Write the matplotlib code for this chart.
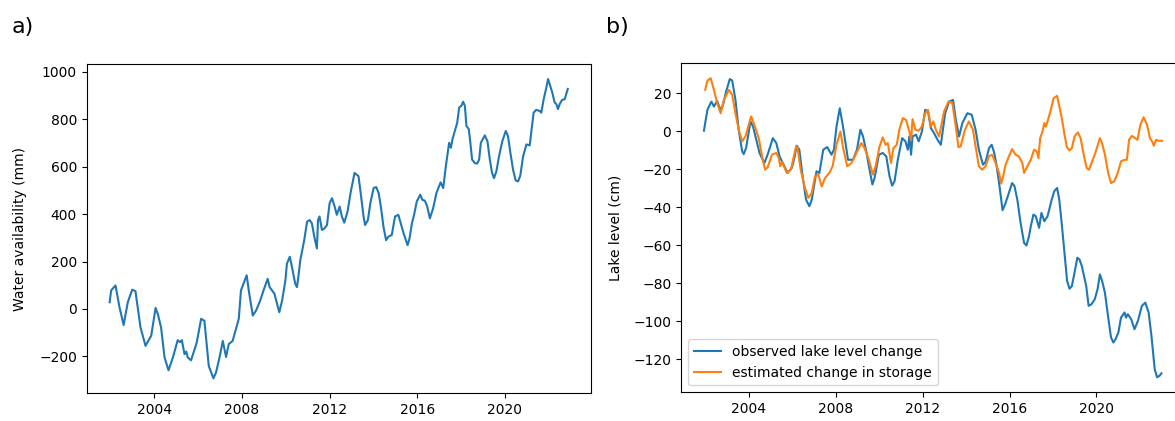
import matplotlib
matplotlib.use("Agg")
import matplotlib.pyplot as plt

# ---- panel a) water availability (mm) ----
wa_year = [2001.95, 2002.02, 2002.22, 2002.40, 2002.59, 2002.78, 2002.98, 2003.13, 2003.36, 2003.59,
           2003.85, 2004.05, 2004.15, 2004.30, 2004.46, 2004.64, 2004.84, 2005.06, 2005.16, 2005.25,
           2005.37, 2005.45, 2005.52, 2005.67, 2005.93, 2006.13, 2006.28, 2006.48, 2006.69, 2006.81,
           2006.97, 2007.12, 2007.27, 2007.39, 2007.57, 2007.70, 2007.85, 2007.95, 2008.21, 2008.33,
           2008.49, 2008.64, 2008.83, 2008.98, 2009.17, 2009.26, 2009.48, 2009.70, 2009.83, 2009.98,
           2010.05, 2010.18, 2010.25, 2010.43, 2010.51, 2010.59, 2010.66, 2010.84, 2010.97, 2011.09,
           2011.19, 2011.30, 2011.42, 2011.47, 2011.54, 2011.65, 2011.77, 2011.88, 2012.00, 2012.11,
           2012.23, 2012.33, 2012.46, 2012.56, 2012.67, 2012.82, 2012.97, 2013.14, 2013.32, 2013.44,
           2013.55, 2013.62, 2013.75, 2013.86, 2014.01, 2014.13, 2014.24, 2014.34, 2014.46, 2014.58,
           2014.69, 2014.84, 2014.99, 2015.14, 2015.25, 2015.38, 2015.56, 2015.65, 2015.76, 2015.86,
           2015.98, 2016.14, 2016.24, 2016.35, 2016.46, 2016.58, 2016.73, 2016.88, 2017.07, 2017.19,
           2017.31, 2017.46, 2017.54, 2017.61, 2017.72, 2017.83, 2017.92, 2018.02, 2018.10, 2018.18,
           2018.25, 2018.36, 2018.43, 2018.51, 2018.63, 2018.74, 2018.83, 2018.91, 2019.09, 2019.21,
           2019.32, 2019.42, 2019.51, 2019.62, 2019.74, 2019.89, 2020.05, 2020.15, 2020.26, 2020.38,
           2020.50, 2020.61, 2020.71, 2020.84, 2020.99, 2021.14, 2021.32, 2021.44, 2021.60, 2021.67,
           2021.78, 2021.87, 2021.98, 2022.05, 2022.17, 2022.28, 2022.36, 2022.43, 2022.51, 2022.62,
           2022.74, 2022.88]
wa_mm = [28, 78, 99, 7, -68, 28, 81, 75, -78, -156,
         -113, 4, -21, -78, -205, -259, -205, -132, -140, -132,
         -191, -180, -205, -217, -142, -42, -50, -241, -293, -269,
         -205, -135, -203, -149, -135, -92, -42, 78, 142, 64,
         -28, -7, 35, 78, 127, 92, 64, -14, 35, 120,
         191, 220, 191, 106, 92, 149, 205, 290, 368, 375,
         361, 305, 255, 375, 390, 333, 340, 354, 446, 467,
         432, 397, 432, 390, 364, 411, 496, 574, 560, 474,
         390, 354, 375, 446, 510, 514, 489, 432, 347, 290,
         305, 312, 390, 397, 361, 319, 269, 297, 361, 397,
         453, 482, 460, 457, 432, 382, 425, 489, 534, 510,
         602, 701, 680, 715, 751, 786, 850, 857, 874, 857,
         772, 758, 701, 630, 616, 613, 630, 701, 732, 708,
         630, 574, 552, 581, 644, 708, 751, 729, 658, 588,
         542, 538, 562, 644, 694, 690, 828, 840, 835, 828,
         885, 921, 970, 949, 914, 871, 864, 843, 864, 882,
         885, 928]

# ---- panel b) lake level (cm) ----
obs_year = [2001.94, 2002.10, 2002.28, 2002.40, 2002.55, 2002.70, 2002.82, 2002.94, 2003.13, 2003.24,
            2003.39, 2003.54, 2003.70, 2003.77, 2003.88, 2004.08, 2004.20, 2004.35, 2004.50, 2004.72,
            2004.87, 2005.11, 2005.27, 2005.42, 2005.79, 2005.98, 2006.10, 2006.21, 2006.33, 2006.48,
            2006.64, 2006.79, 2006.90, 2007.12, 2007.25, 2007.43, 2007.61, 2007.81, 2007.92, 2008.04,
            2008.19, 2008.34, 2008.57, 2008.80, 2008.98, 2009.14, 2009.26, 2009.41, 2009.56, 2009.69,
            2009.79, 2009.99, 2010.17, 2010.33, 2010.48, 2010.60, 2010.71, 2010.86, 2011.06, 2011.21,
            2011.32, 2011.39, 2011.47, 2011.54, 2011.70, 2011.82, 2011.97, 2012.12, 2012.25, 2012.38,
            2012.53, 2012.69, 2012.84, 2013.04, 2013.22, 2013.40, 2013.53, 2013.68, 2013.83, 2014.06,
            2014.26, 2014.44, 2014.59, 2014.78, 2014.90, 2015.06, 2015.18, 2015.30, 2015.41, 2015.52,
            2015.68, 2015.81, 2015.97, 2016.12, 2016.23, 2016.36, 2016.51, 2016.67, 2016.78, 2016.90,
            2016.98, 2017.10, 2017.21, 2017.36, 2017.47, 2017.60, 2017.75, 2017.94, 2018.06, 2018.19,
            2018.29, 2018.40, 2018.53, 2018.65, 2018.76, 2018.87, 2018.99, 2019.12, 2019.22, 2019.33,
            2019.53, 2019.64, 2019.77, 2019.92, 2020.05, 2020.16, 2020.26, 2020.39, 2020.51, 2020.67,
            2020.78, 2020.88, 2021.01, 2021.13, 2021.29, 2021.36, 2021.44, 2021.60, 2021.75, 2021.91,
            2022.09, 2022.25, 2022.40, 2022.53, 2022.68, 2022.79, 2022.90, 2022.99]
obs_cm = [0.3, 11.3, 15.6, 13.0, 16.0, 11.0, 14.0, 20.0, 27.5, 26.7,
          16.5, 0.8, -10.6, -12.0, -8.8, 5.2, 2.5, -4.5, -11.5, -16.7,
          -12.3, -3.6, -6.2, -13.2, -21.9, -19.3, -14.1, -7.6, -9.7, -23.7,
          -36.0, -39.4, -36.0, -21.0, -22.0, -9.7, -8.3, -12.3, -9.7, 2.5,
          12.1, 2.5, -15.0, -15.0, -9.7, 0.8, -2.7, -10.6, -20.2, -28.0,
          -24.6, -12.3, -11.4, -13.2, -23.7, -28.6, -26.3, -15.0, -3.6, -5.3,
          -9.7, -2.7, -12.3, -2.7, -1.8, -5.3, -0.1, 11.3, 10.4, 1.7,
          -1.0, -4.5, -7.1, 9.5, 15.6, 16.5, 6.0, -2.7, 4.3, 9.5,
          8.7, 0.8, -9.7, -17.6, -16.0, -8.8, -7.1, -11.4, -18.4, -27.2,
          -41.5, -38.0, -32.4, -27.2, -28.9, -36.0, -48.2, -58.7, -60.1, -55.1,
          -49.9, -43.8, -44.7, -50.8, -42.9, -47.3, -44.7, -36.0, -31.5, -29.8,
          -36.0, -48.2, -63.9, -78.7, -82.8, -81.4, -74.4, -66.5, -67.4, -71.0,
          -81.4, -91.8, -91.0, -88.4, -83.1, -75.3, -78.7, -84.9, -95.3, -108.4,
          -111.1, -109.3, -105.8, -98.0, -95.3, -98.0, -96.2, -98.8, -104.1, -99.7,
          -91.8, -90.1, -95.3, -107.5, -125.0, -129.4, -128.6, -127.3]

est_year = [2002.00, 2002.10, 2002.25, 2002.40, 2002.55, 2002.71, 2002.86, 2003.09, 2003.24, 2003.39,
            2003.54, 2003.70, 2003.85, 2004.11, 2004.26, 2004.46, 2004.66, 2004.76, 2004.87, 2005.07,
            2005.27, 2005.38, 2005.45, 2005.53, 2005.75, 2005.94, 2006.18, 2006.25, 2006.39, 2006.59,
            2006.74, 2006.90, 2007.05, 2007.20, 2007.36, 2007.51, 2007.71, 2007.86, 2008.04, 2008.22,
            2008.34, 2008.53, 2008.73, 2008.92, 2009.18, 2009.33, 2009.53, 2009.71, 2009.84, 2010.02,
            2010.17, 2010.30, 2010.40, 2010.55, 2010.66, 2010.81, 2010.93, 2011.09, 2011.24, 2011.39,
            2011.47, 2011.54, 2011.67, 2011.82, 2011.97, 2012.12, 2012.25, 2012.38, 2012.49, 2012.61,
            2012.76, 2012.99, 2013.19, 2013.37, 2013.53, 2013.65, 2013.75, 2013.95, 2014.13, 2014.32,
            2014.44, 2014.59, 2014.74, 2014.90, 2015.05, 2015.20, 2015.39, 2015.52, 2015.62, 2015.70,
            2015.81, 2015.97, 2016.12, 2016.28, 2016.43, 2016.59, 2016.67, 2016.82, 2016.98, 2017.13,
            2017.26, 2017.33, 2017.41, 2017.52, 2017.60, 2017.67, 2017.75, 2017.88, 2018.03, 2018.19,
            2018.29, 2018.42, 2018.53, 2018.64, 2018.76, 2018.87, 2018.99, 2019.15, 2019.27, 2019.43,
            2019.55, 2019.66, 2019.80, 2019.95, 2020.16, 2020.26, 2020.39, 2020.54, 2020.67, 2020.82,
            2020.98, 2021.13, 2021.29, 2021.40, 2021.50, 2021.63, 2021.78, 2021.89, 2022.02, 2022.17,
            2022.33, 2022.46, 2022.56, 2022.64, 2022.74, 2022.87, 2023.02]
est_cm = [21.8, 26.7, 27.9, 21.8, 14.8, 9.5, 16.5, 21.8, 19.1, 9.5,
          0.8, -5.3, -2.7, 7.8, 3.4, -3.6, -15.8, -20.2, -19.0, -12.3,
          -11.4, -14.0, -18.4, -16.0, -21.9, -20.2, -7.9, -8.8, -20.2, -29.8,
          -35.0, -32.4, -23.7, -22.8, -29.0, -24.6, -21.9, -18.4, -7.1, -0.1,
          -8.5, -18.4, -16.7, -12.3, -6.2, -8.8, -15.0, -22.8, -18.4, -8.0,
          -3.2, -7.1, -6.2, -16.7, -8.8, -7.1, 0.8, 6.9, 6.0, -0.1,
          -4.5, 6.4, 0.8, 0.3, 2.5, 9.5, 11.3, 2.5, 5.2, 0.8,
          -2.7, 10.4, 15.6, 14.8, 2.5, -8.3, -8.0, 0.8, 5.2, 0.8,
          -8.0, -18.4, -20.2, -18.4, -13.2, -12.3, -17.6, -22.0, -27.5, -24.0,
          -18.0, -13.2, -9.4, -12.3, -13.2, -16.7, -21.9, -18.4, -15.0, -9.7,
          -10.6, -14.1, -3.6, -0.1, 4.3, 2.5, 5.2, 10.4, 17.4, 18.6,
          13.0, 6.0, -1.8, -8.3, -10.1, -8.8, -2.7, -0.6, -3.6, -13.2,
          -19.3, -20.2, -15.8, -11.4, -3.6, -6.2, -12.3, -21.9, -27.2, -26.3,
          -21.9, -15.8, -15.0, -15.0, -4.5, -2.4, -3.6, -4.5, 3.4, 7.4,
          3.4, -3.6, -5.3, -7.6, -4.5, -5.0, -5.0]

year_ticks = [2004, 2008, 2012, 2016, 2020]

fig = plt.figure(figsize=(11.75, 4.21), dpi=100)

# left panel
ax1 = fig.add_axes([0.0738, 0.0658, 0.4289, 0.782])
ax1.plot(wa_year, wa_mm, color="tab:blue")
ax1.set_ylabel("Water availability (mm)", labelpad=9)
ax1.set_xticks(year_ticks, [str(t) for t in year_ticks])

# right panel (original screenshot cuts it off at the right edge)
ax2 = fig.add_axes([0.5796, 0.0682, 0.4289, 0.7815])
ax2.plot(obs_year, obs_cm, color="tab:blue", label="observed lake level change")
ax2.plot(est_year, est_cm, color="tab:orange", label="estimated change in storage")
ax2.set_ylabel("Lake level (cm)", labelpad=8)
ax2.set_xticks(year_ticks, [str(t) for t in year_ticks])
ax2.legend(loc="lower left")

fig.text(0.010, 0.922, "a)", fontsize=16, va="baseline")
fig.text(0.516, 0.922, "b)", fontsize=16, va="baseline")

fig.savefig("out.png", dpi=100)
